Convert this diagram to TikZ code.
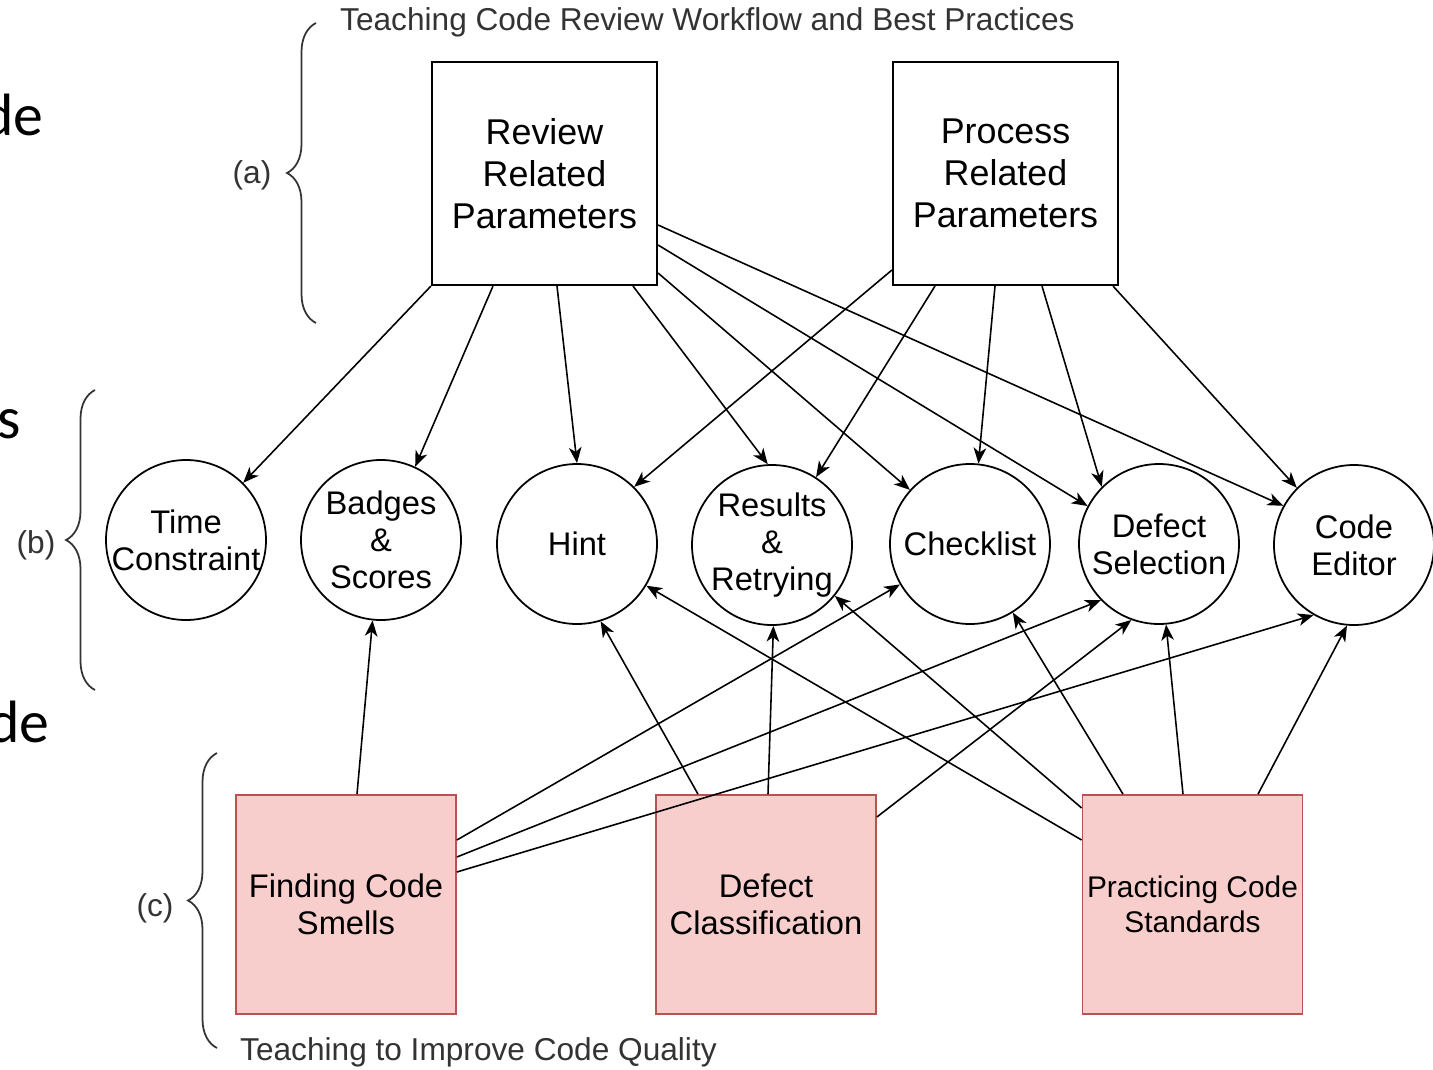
\documentclass[tikz,border=0pt]{standalone}
\usepackage{fontspec}
\setmainfont{Liberation Sans}
\newfontfamily\slidefont{Carlito}
\usetikzlibrary{arrows.meta, decorations.pathreplacing}

\definecolor{pinkfill}{HTML}{F8CECC}
\definecolor{pinkline}{HTML}{B85450}

\begin{document}
\begin{tikzpicture}[
  x=0.1mm, y=-0.1mm,
  param/.style={rectangle, draw, line width=0.6pt, minimum width=22.5mm, minimum height=22.3mm, align=center, font=\fontsize{10.2}{12}\selectfont},
  feature/.style={circle, draw, line width=0.5pt, minimum size=16mm, inner sep=-3pt, align=center, font=\fontsize{9.3}{10.6}\selectfont},
  teach/.style={rectangle, draw=pinkline, fill=pinkfill, line width=0.5pt, minimum width=22mm, minimum height=21.9mm, inner sep=1pt, align=center, font=\fontsize{9.3}{10.6}\selectfont},
  link/.style={draw, line width=0.45pt, -{Stealth[length=4.5pt, width=3.6pt, inset=1.3pt]}},
  lbl/.style={text=black!80, font=\fontsize{9}{10.5}\selectfont, inner sep=1pt},
  bracket/.style={draw=black!80, line width=0.5pt, decorate, decoration={brace, amplitude=2.9mm}},
  slide/.style={font=\slidefont\fontsize{17}{20}\selectfont, inner sep=0pt}
]
\useasboundingbox (0,0) rectangle (1433,1070);

% slide text cut off at the page edge
\node[slide, anchor=base east] (frag1) at (44,135) {de};
\node[slide, anchor=base east] (frag2) at (22,438) {s};
\node[slide, anchor=base east] (frag3) at (50,742) {de};

% parameters
\node[param] (rev) at (544.5,173.5) {Review\\Related\\Parameters};
\node[param] (proc) at (1005.5,173.5) {Process\\Related\\Parameters};

% features
\node[feature] (time) at (186,540) {Time\\Constraint};
\node[feature] (badges) at (381,540) {Badges\\\&\\Scores};
\node[feature] (hint) at (577,544) {Hint};
\node[feature] (results) at (772,545) {Results\\\&\\Retrying};
\node[feature] (check) at (970,544) {Checklist};
\node[feature] (defsel) at (1159,544) {Defect\\Selection};
\node[feature] (editor) at (1354,545) {Code\\Editor};

% teaching goals
\node[teach] (smells) at (346,904.5) {Finding Code\\Smells};
\node[teach] (classif) at (766,904.5) {Defect\\Classification};
\node[teach, font=\fontsize{8.5}{10}\selectfont] (stand) at (1192.5,904.5) {Practicing Code\\Standards};

% review related
\draw[link] (rev.south west) -- (time.45);
\draw[link] ([xshift=-5.15mm]rev.south) -- (badges.65);
\draw[link] ([xshift=1.25mm]rev.south) -- (hint.90);
\draw[link] ([xshift=8.85mm]rev.south) -- (results.93);
\draw[link] ([yshift=-9.95mm]rev.east) -- (check.138);
\draw[link] ([yshift=-7.15mm]rev.east) -- (defsel.152);
\draw[link] ([yshift=-5.15mm]rev.east) -- (editor.151);

% process related
\draw[link] ([yshift=-9.65mm]proc.west) -- (hint.45);
\draw[link] ([xshift=-7.05mm]proc.south) -- (results.57);
\draw[link] ([xshift=-1.05mm]proc.south) -- (check.84);
\draw[link] ([xshift=3.65mm]proc.south) -- (defsel.135);
\draw[link] ([xshift=10.75mm]proc.south) -- (editor.135);

% finding code smells
\draw[link] ([xshift=1.1mm]smells.north) -- (badges.264);
\draw[link] ([yshift=6.45mm]smells.east) -- (check.210);
\draw[link] ([yshift=4.75mm]smells.east) -- (defsel.224);
\draw[link] ([yshift=3.25mm]smells.east) -- (editor.240);

% defect classification
\draw[link] ([xshift=-6.8mm]classif.north) -- (hint.287);
\draw[link] ([xshift=0.2mm]classif.north) -- (results.271);
\draw[link] ([yshift=8.75mm]classif.east) -- (defsel.250);

% practicing code standards
\draw[link] ([yshift=6.45mm]stand.west) -- (hint.329);
\draw[link] ([yshift=9.65mm]stand.west) -- (results.321);
\draw[link] ([xshift=-6.95mm]stand.north) -- (check.302);
\draw[link] ([xshift=-0.95mm]stand.north) -- (defsel.275);
\draw[link] ([xshift=6.55mm]stand.north) -- (editor.265);

% brackets with their captions
\draw[bracket] (316,323) -- (316,23);
\node[lbl] (la) at (252,175) {(a)};
\node[lbl, anchor=west] (topcap) at (336,22) {Teaching Code Review Workflow and Best Practices};
\draw[bracket] (95,690) -- (95,390);
\node[lbl] (lb) at (36,545) {(b)};
\draw[bracket] (217,1048) -- (217,753);
\node[lbl] (lc) at (155,908) {(c)};
\node[lbl, anchor=west] (botcap) at (236,1052) {Teaching to Improve Code Quality};

\end{tikzpicture}
\end{document}
